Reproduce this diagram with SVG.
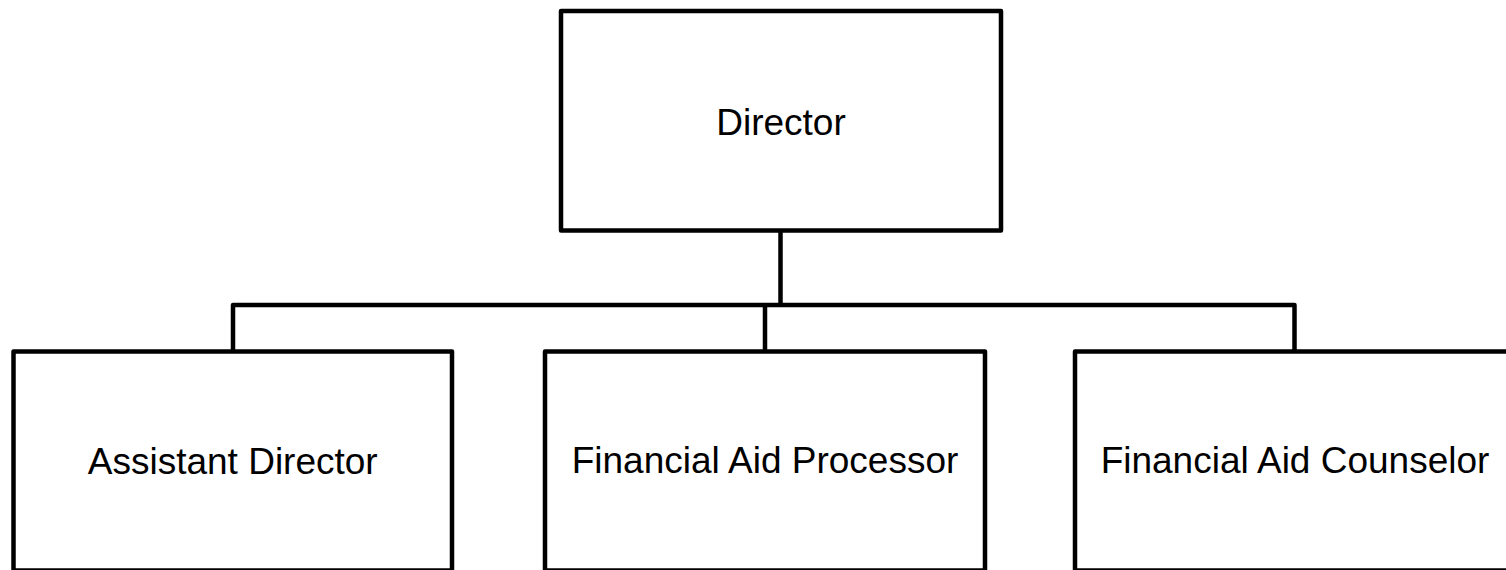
<svg xmlns="http://www.w3.org/2000/svg" width="1506" height="570" viewBox="0 0 1506 570">
<style>
.box{fill:#ffffff;stroke:#000000;stroke-width:4.5;stroke-linejoin:round}
.conn{fill:none;stroke:#000000;stroke-width:4.5;stroke-linejoin:round}
.lbl{font-family:"Liberation Sans",Arial,sans-serif;font-size:37px;fill:#000000;text-anchor:middle}
</style>
<rect x="0" y="0" width="1506" height="570" fill="#ffffff"/>
<g id="connectors">
<path class="conn" d="M780.5,230.5 V305"/>
<path class="conn" d="M233,351.5 V305 H1294.5 V351.5"/>
<path class="conn" d="M765,305 V351.5"/>
</g>
<g id="director">
<rect class="box" x="561" y="11" width="440" height="219.5"/>
<text class="lbl" x="781" y="135">Director</text>
</g>
<g id="assistant-director">
<rect class="box" x="13.5" y="351.5" width="438.5" height="219"/>
<text class="lbl" x="232.75" y="474">Assistant Director</text>
</g>
<g id="financial-aid-processor">
<rect class="box" x="545" y="351.5" width="440" height="219"/>
<text class="lbl" x="765" y="473">Financial Aid Processor</text>
</g>
<g id="financial-aid-counselor">
<rect class="box" x="1075" y="351.5" width="440" height="219"/>
<text class="lbl" x="1295" y="473">Financial Aid Counselor</text>
</g>
</svg>
